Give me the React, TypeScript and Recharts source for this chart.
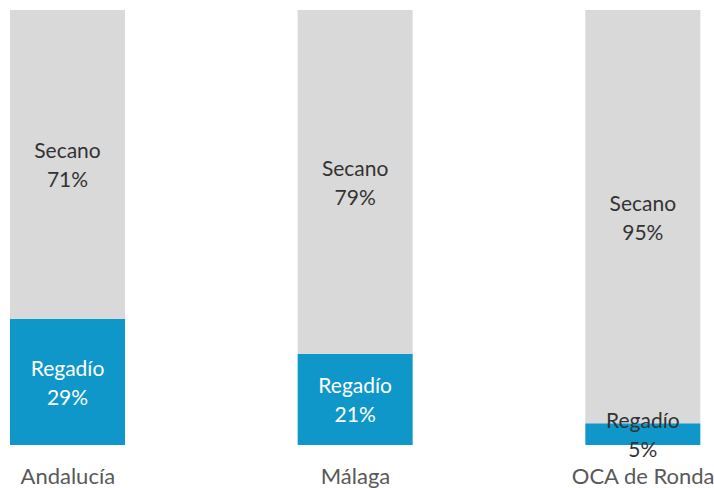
import React from "react";
import { BarChart, Bar, XAxis, YAxis, LabelList } from "recharts";

// Share of farmland, percent
const regions = ["Andalucía", "Málaga", "OCA de Ronda"];
const regadio = [29, 21, 5];
const secano = [71, 79, 95];

const data = regions.map((name, i) => ({ name, regadio: regadio[i], secano: secano[i] }));

const FONT = "Lato, 'Open Sans', sans-serif";

const makeLabel = (title: string, light: boolean) => (props: any) => {
  const { x, y, width, height, value } = props;
  const cx = x + width / 2;
  const cy = y + height / 2;
  // small segments get dark text, like the original
  const fill = light && height > 40 ? "#ffffff" : "#333333";
  return (
    <text x={cx} y={cy} textAnchor="middle" fontFamily={FONT} fontSize={21} fill={fill}>
      <tspan x={cx} y={cy - 6}>{title}</tspan>
      <tspan x={cx} y={cy + 23}>{value}%</tspan>
    </text>
  );
};

const App: React.FC = () => {
  return (
    <div style={{ position: "absolute", left: 0, top: 0, width: 714, height: 488, background: "#fff" }}>
      <BarChart
        width={714}
        height={488}
        data={data}
        margin={{ top: 10, right: -73, left: -76, bottom: 0 }}
      >
        <XAxis
          dataKey="name"
          height={43}
          axisLine={false}
          tickLine={false}
          tickMargin={17}
          tick={{ fontSize: 22, fill: "#595959", fontFamily: FONT }}
          interval={0}
        />
        <YAxis hide domain={[0, 100]} />
        <Bar dataKey="regadio" stackId="a" fill="#1097c9" barSize={115} isAnimationActive={false}>
          <LabelList dataKey="regadio" content={makeLabel("Regadío", true)} />
        </Bar>
        <Bar dataKey="secano" stackId="a" fill="#d9d9d9" barSize={115} isAnimationActive={false}>
          <LabelList dataKey="secano" content={makeLabel("Secano", false)} />
        </Bar>
      </BarChart>
    </div>
  );
};

export default App;
